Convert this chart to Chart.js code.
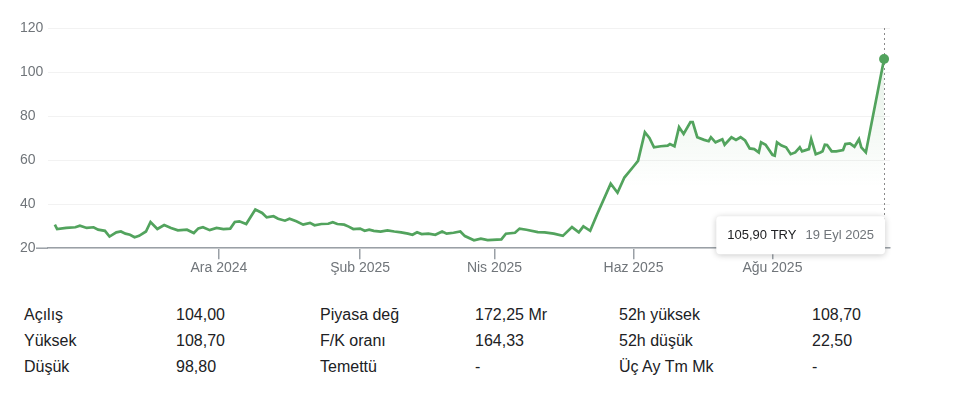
<!DOCTYPE html>
<html>
<head>
<meta charset="utf-8">
<script src="https://cdn.jsdelivr.net/npm/chart.js@4.4.1/dist/chart.umd.min.js"></script>
<style>
  body { margin: 0; background: #fff; font-family: 'Liberation Sans', Arial, sans-serif; }
  #wrap { position: relative; width: 960px; height: 278px; }
  #stats { position: relative; width: 960px; height: 120px; color: #202124; font-size: 16px; }
  #stats span { position: absolute; line-height: 20px; white-space: nowrap; }
</style>
</head>
<body>
<div id="wrap"><canvas id="chart"></canvas></div>
<div id="stats"></div>
<script>
// days since 19 Sep 2024
const days = [
  1, 2, 6, 10, 12, 15, 18, 20, 23, 25,
  28, 30, 32, 34, 36, 38, 41, 43, 46, 49,
  52, 55, 59, 62, 64, 66, 69, 72, 75, 78,
  80, 82, 85, 89, 92, 94, 97, 99, 102, 104,
  107, 110, 113, 115, 118, 121, 123, 125, 128, 130,
  132, 135, 137, 139, 141, 144, 147, 150, 153, 156,
  158, 160, 162, 165, 168, 171, 173, 176, 179, 181,
  185, 188, 191, 197, 199, 203, 205, 208, 213, 216,
  220, 224, 228, 231, 233, 236, 239, 245, 248, 251,
  255, 257, 260, 262, 264, 267, 270, 271, 273, 275,
  277, 280, 281, 283, 286, 288, 289, 291, 294, 295,
  298, 300, 302, 304, 306, 308, 310, 311, 313, 316,
  317, 318, 320, 322, 324, 326, 328, 329, 332, 333,
  335, 337, 338, 339, 340, 342, 344, 347, 348, 350,
  352, 354, 355, 357, 365
];
const prices = [
  30.7, 28.7, 29.2, 29.5, 30.2, 29.2, 29.5, 28.4, 27.9, 25.3,
  27.2, 27.6, 26.6, 26.1, 25.0, 25.6, 27.6, 31.9, 28.7, 30.5,
  29.2, 28.1, 28.4, 26.9, 29.0, 29.5, 28.2, 29.2, 28.7, 28.9,
  31.9, 32.2, 31.0, 37.6, 36.0, 34.0, 34.5, 33.4, 32.5, 33.4,
  32.2, 30.7, 31.5, 30.4, 31.0, 31.1, 31.8, 31.0, 30.7, 29.8,
  28.7, 28.9, 27.9, 28.4, 27.9, 27.5, 28.1, 27.6, 27.2, 26.6,
  26.1, 27.2, 26.4, 26.6, 26.1, 27.6, 26.6, 27.0, 27.6, 25.5,
  23.6, 24.3, 23.7, 24.0, 26.6, 27.0, 28.9, 28.4, 27.3, 27.2,
  26.6, 25.6, 29.6, 27.2, 29.9, 27.9, 35.3, 49.3, 45.2, 52.1,
  57.1, 59.7, 72.7, 70.1, 65.8, 66.3, 66.6, 67.3, 66.3, 75.0,
  71.9, 77.3, 77.3, 70.4, 69.2, 68.6, 70.4, 68.1, 69.5, 67.0,
  70.4, 69.2, 70.4, 68.9, 65.3, 65.0, 63.5, 68.1, 67.0, 62.4,
  62.0, 68.1, 66.6, 65.8, 62.7, 63.5, 65.8, 64.0, 65.0, 69.6,
  62.7, 63.5, 64.0, 67.0, 66.9, 64.0, 64.0, 64.6, 67.3, 67.6,
  66.1, 69.5, 65.8, 63.5, 105.9
];
const tickDays = [73, 135, 194, 255, 316];
const tickLabels = ['Ara 2024', 'Şub 2025', 'Nis 2025', 'Haz 2025', 'Ağu 2025'];
const lastDate = '19 Eyl 2025';
const currency = 'TRY';

const statLabels1 = ['Açılış', 'Yüksek', 'Düşük'];
const statValues1 = ['104,00', '108,70', '98,80'];
const statLabels2 = ['Piyasa değ', 'F/K oranı', 'Temettü'];
const statValues2 = ['172,25 Mr', '164,33', '-'];
const statLabels3 = ['52h yüksek', '52h düşük', 'Üç Ay Tm Mk'];
const statValues3 = ['108,70', '22,50', '-'];

const green = '#52a35d';
const axisGrey = '#9aa0a6';
const fontFamily = "'Liberation Sans', Arial, sans-serif";
const last = prices.length - 1;

// dotted line behind the last point, baseline stub, price box at the bottom
const markerPlugin = {
  id: 'marker',
  beforeDatasetsDraw(chart) {
    const ctx = chart.ctx;
    const pt = chart.getDatasetMeta(0).data[last];
    const area = chart.chartArea;
    ctx.save();
    ctx.strokeStyle = '#8a8a8a';
    ctx.lineWidth = 1;
    ctx.setLineDash([2, 3]);
    ctx.beginPath();
    ctx.moveTo(Math.round(pt.x) + 0.5, area.top);
    ctx.lineTo(Math.round(pt.x) + 0.5, area.bottom);
    ctx.stroke();
    ctx.setLineDash([]);
    // the axis line starts a bit left of the grid
    ctx.strokeStyle = axisGrey;
    ctx.lineWidth = 1.5;
    ctx.beginPath();
    ctx.moveTo(36, area.bottom);
    ctx.lineTo(area.left, area.bottom);
    ctx.stroke();
    ctx.restore();
  },
  afterDraw(chart) {
    const ctx = chart.ctx;
    const pt = chart.getDatasetMeta(0).data[last];
    const area = chart.chartArea;
    const priceTxt = prices[last].toFixed(2).replace('.', ',') + ' ' + currency;
    ctx.save();
    ctx.font = '13px ' + fontFamily;
    const w1 = ctx.measureText(priceTxt).width;
    const w2 = ctx.measureText(lastDate).width;
    const w = 11 + w1 + 9 + w2 + 11;
    const h = 38;
    const x = pt.x + 1 - w;
    const y = area.bottom - 32;
    ctx.shadowColor = 'rgba(0,0,0,0.22)';
    ctx.shadowBlur = 6;
    ctx.shadowOffsetY = 1;
    ctx.fillStyle = '#fff';
    ctx.beginPath();
    ctx.roundRect(x, y, w, h, 4);
    ctx.fill();
    ctx.shadowColor = 'transparent';
    ctx.textBaseline = 'middle';
    ctx.fillStyle = '#202124';
    ctx.fillText(priceTxt, x + 11, y + h / 2);
    ctx.fillStyle = '#70757a';
    ctx.fillText(lastDate, x + 11 + w1 + 9, y + h / 2);
    ctx.restore();
  }
};

new Chart(document.getElementById('chart'), {
  type: 'line',
  data: {
    datasets: [{
      data: days.map((d, i) => ({ x: d, y: prices[i] })),
      borderColor: green,
      borderWidth: 2.7,
      tension: 0,
      fill: 'start',
      backgroundColor: (c) => {
        const area = c.chart.chartArea;
        if (!area) return 'rgba(82,163,93,0.1)';
        const yScale = c.chart.scales.y;
        const g = c.chart.ctx.createLinearGradient(0, yScale.getPixelForValue(100), 0, yScale.getPixelForValue(48));
        g.addColorStop(0, 'rgba(82,163,93,0.13)');
        g.addColorStop(1, 'rgba(82,163,93,0)');
        return g;
      },
      pointRadius: (c) => c.dataIndex === last ? 5 : 0,
      pointBackgroundColor: green,
      pointBorderWidth: 0
    }]
  },
  options: {
    responsive: true,
    maintainAspectRatio: false,
    animation: false,
    layout: { padding: { left: 20, right: 70, top: 28, bottom: 0 } },
    plugins: { legend: { display: false }, tooltip: { enabled: false } },
    scales: {
      x: {
        type: 'linear',
        min: -2,
        max: 367.6,
        afterBuildTicks: (s) => { s.ticks = tickDays.map(v => ({ value: v })); },
        ticks: {
          callback: (v, i) => tickLabels[i],
          color: '#70757a',
          font: { size: 14, family: fontFamily },
          padding: 1,
          maxRotation: 0,
          autoSkip: false
        },
        grid: { drawOnChartArea: false, drawTicks: true, tickLength: 11, color: axisGrey, lineWidth: 1.5 },
        border: { color: axisGrey, width: 1.5 }
      },
      y: {
        min: 20,
        max: 120,
        ticks: {
          stepSize: 20,
          color: '#70757a',
          font: { size: 14, family: fontFamily },
          crossAlign: 'far',
          padding: 0
        },
        grid: { color: '#f2f2f2', drawTicks: false },
        border: { display: false },
        afterFit: (s) => { s.width = 28; }
      }
    }
  },
  plugins: [markerPlugin]
});

// stats table under the chart
const stats = document.getElementById('stats');
const cols = [
  [statLabels1, 24], [statValues1, 176],
  [statLabels2, 320], [statValues2, 475],
  [statLabels3, 619], [statValues3, 812]
];
cols.forEach(([list, left]) => {
  list.forEach((txt, r) => {
    const s = document.createElement('span');
    s.textContent = txt;
    s.style.left = left + 'px';
    s.style.top = (27 + r * 26) + 'px';
    stats.appendChild(s);
  });
});
</script>
</body>
</html>
